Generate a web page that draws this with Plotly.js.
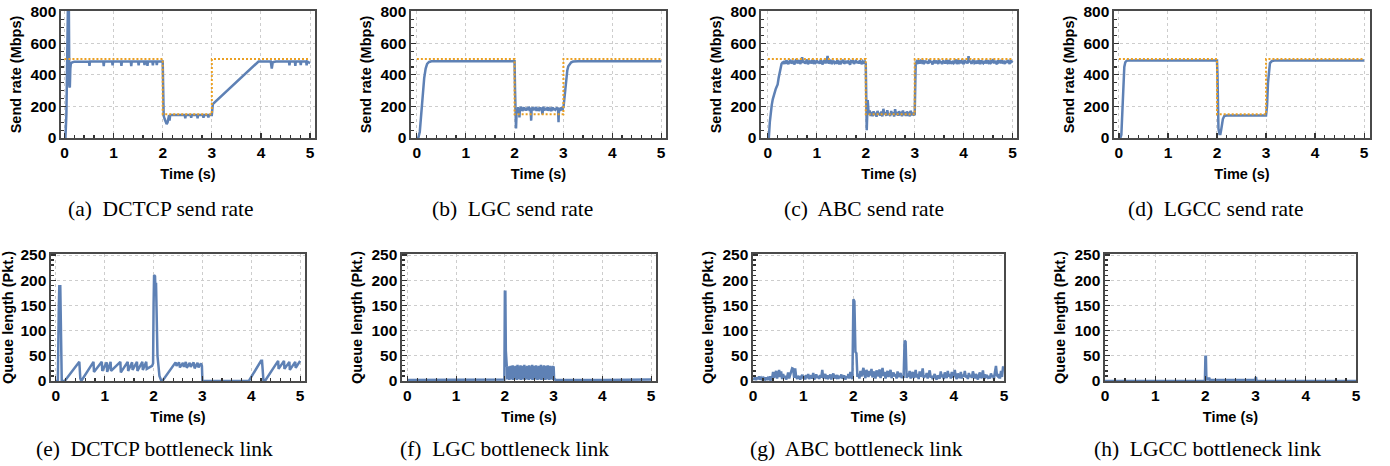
<!DOCTYPE html>
<html>
<head>
<meta charset="utf-8">
<script src="https://cdn.plot.ly/plotly-3.0.1.min.js"></script>
<style>html,body{margin:0;padding:0;background:#fff;}#chart{width:1390px;height:466px;}</style>
</head>
<body>
<div id="chart"></div>
<script>
// ---------- capacity reference (orange dotted) ----------
const capT = [0, 2, 2, 3, 3, 5];
const capV = [500, 500, 150, 150, 500, 500];

// ---------- (a) DCTCP send rate ----------
const aT = [0, 0.02, 0.04, 0.05, 0.06, 0.07, 0.08, 0.09, 0.10, 0.11,
  0.12, 0.13, 0.15, 0.2, 0.5, 0.51, 0.52, 0.79, 0.80, 0.81,
  0.97, 0.98, 0.99, 1.15, 1.16, 1.17, 1.35, 1.36, 1.37, 1.50,
  1.51, 1.52, 1.62, 1.63, 1.64, 1.68, 1.69, 1.70, 1.79, 1.80,
  1.81, 1.87, 1.88, 1.89, 2.0, 2.02, 2.04, 2.06, 2.08, 2.10,
  2.12, 2.13, 2.14, 2.15, 2.17, 2.45, 2.46, 2.47, 2.57, 2.58,
  2.59, 2.70, 2.71, 2.72, 2.82, 2.83, 2.84, 2.92, 2.93, 2.94,
  3.0, 3.02, 3.95, 4.20, 4.22, 4.24, 4.30, 4.57, 4.58, 4.59,
  4.69, 4.70, 4.71, 4.80, 4.81, 4.82, 4.92, 4.93, 4.94, 5.0];
const aV = [0, 0, 150, 450, 800, 820, 650, 820, 330, 320,
  440, 470, 478, 484, 485, 458, 485, 485, 455, 485,
  485, 460, 485, 485, 458, 485, 485, 455, 485, 485,
  460, 485, 485, 462, 485, 485, 458, 485, 485, 460,
  485, 485, 462, 485, 485, 140, 120, 95, 88, 100,
  130, 145, 110, 140, 145, 145, 125, 145, 145, 128,
  145, 145, 125, 145, 145, 128, 145, 145, 130, 145,
  145, 215, 485, 485, 440, 480, 485, 485, 460, 485,
  485, 458, 485, 485, 462, 485, 485, 460, 485, 475];

// ---------- (b) LGC send rate ----------
const bT1 = [0, 0.03, 0.06, 0.09, 0.12, 0.15, 0.18, 0.21, 0.25, 0.3, 0.4, 2.0, 2.01, 2.02, 2.03, 2.04];
const bV1 = [0, 0, 40, 150, 280, 380, 440, 470, 482, 486, 487, 487, 300, 80, 60, 150];
const bNoiseStart = 2.04, bNoiseStep = 0.01;
const bV2 = [150,185,172,195,178,190,130,188,176,198,
  181,193,170,189,184,196,175,191,180,187,
  173,194,182,190,177,199,185,171,192,183,
  110,186,179,196,174,190,181,188,176,197,
  183,172,191,185,178,194,170,189,182,195,
  176,187,180,150,184,198,173,190,179,186,
  192,175,188,181,196,172,185,190,177,193,
  183,170,189,186,195,178,182,191,174,188,
  181,185,179,194,181,187,100,192,184,171,
  189,180,195,186,175,190,190];
const bT3 = [3.0, 3.02, 3.04, 3.06, 3.08, 3.1, 3.13, 3.16, 3.2, 3.3, 5.0];
const bV3 = [190, 250, 330, 390, 430, 455, 470, 480, 485, 487, 487];

// ---------- (c) ABC send rate (sampled every 0.02 s from 0) ----------
const cStep = 0.02;
const cV = [0,0,100,175,210,245,270,295,310,325,340,380,420,450,470,478,
  475,488,470,492,480,468,485,495,472,483,
  490,466,479,500,474,486,493,470,482,512,
  476,489,471,484,497,468,481,490,473,486,
  479,494,469,483,491,475,487,470,498,480,
  466,485,492,474,488,520,472,483,495,469,
  481,490,477,486,470,493,482,467,489,476,
  484,496,471,480,488,473,491,478,465,487,
  483,494,470,481,489,475,486,472,492,480,
  468,485,478,484,
  470,50,240,
  150,175,140,165,138,170,145,160,135,172,
  148,158,142,168,137,185,150,163,140,176,
  146,155,139,171,152,160,136,182,147,165,
  141,170,153,158,138,174,145,162,140,168,
  150,156,137,173,144,160,148,
  150,
  470,485,478,492,472,487,480,495,469,483,
  490,475,486,471,498,479,488,466,484,493,
  474,489,481,470,496,477,485,468,491,482,
  473,487,479,494,470,486,480,471,489,476,
  483,497,469,485,478,492,474,488,481,467,
  494,477,486,472,518,480,489,470,484,495,
  476,482,471,490,479,486,468,493,481,475,
  488,472,496,480,485,469,491,477,484,500,
  473,489,478,467,492,481,486,474,495,479,
  483,470,488,476,494,481,469,490,485,478];

// ---------- (d) LGCC send rate ----------
const dT = [0, 0.03, 0.05, 0.07, 0.09, 0.11, 0.13, 0.16, 0.2, 2.0,
  2.01, 2.02, 2.03, 2.05, 2.07, 2.09, 2.12, 2.15, 2.2, 3.0,
  3.02, 3.04, 3.06, 3.08, 3.12, 3.2, 5.0];
const dV = [0, 0, 20, 150, 350, 450, 480, 490, 492, 492,
  400, 200, 60, 25, 25, 60, 120, 140, 142, 142,
  200, 350, 440, 475, 488, 492, 492];

// ---------- (e) DCTCP queue ----------
const eT = [0, 0.04, 0.06, 0.07, 0.09, 0.10, 0.11, 0.12, 0.18, 0.47,
  0.48, 0.50, 0.52, 0.77, 0.78, 0.94, 0.95, 1.04, 1.05, 1.12,
  1.13, 1.32, 1.33, 1.47, 1.48, 1.56, 1.57, 1.66, 1.67, 1.77,
  1.78, 1.85, 1.86, 1.97, 1.99, 2.00, 2.01, 2.03, 2.04, 2.05,
  2.06, 2.08, 2.09, 2.10, 2.12, 2.16, 2.18, 2.45, 2.47, 2.52,
  2.54, 2.60, 2.62, 2.66, 2.68, 2.74, 2.76, 2.82, 2.84, 2.90,
  2.92, 2.97, 2.99, 3.00, 3.95, 4.20, 4.22, 4.25, 4.28, 4.55,
  4.56, 4.67, 4.68, 4.78, 4.79, 4.90, 4.91, 5.00];
const eV = [0, 0, 150, 188, 188, 120, 20, 0, 0, 38,
  38, 5, 0, 38, 18, 38, 20, 37, 18, 38,
  20, 38, 17, 38, 20, 37, 22, 38, 20, 38,
  22, 38, 24, 30, 35, 150, 210, 208, 170, 195,
  120, 50, 40, 30, 10, 0, 0, 37, 30, 37,
  27, 36, 28, 38, 26, 36, 28, 37, 25, 36,
  27, 35, 30, 0, 0, 40, 40, 0, 0, 40,
  24, 40, 24, 38, 22, 38, 26, 40];

// ---------- (f) LGC queue ----------
const fT1 = [0, 0.3, 0.31, 1.0, 1.01, 1.98, 1.99, 2.0, 2.01, 2.02, 2.03, 2.04];
const fV1 = [2, 2, 3, 3, 2, 2, 3, 177, 177, 60, 28, 28];
const fBandStart = 2.04, fBandStep = 0.01;
const fV2 = [28,3,27,5,29,2,26,6,30,3,
  28,4,31,2,27,7,29,3,30,5,
  26,2,32,4,28,6,29,3,31,2,
  27,5,30,3,28,8,32,2,29,4,
  26,3,30,6,28,2,31,4,27,5,
  29,3,32,2,28,6,30,4,27,3,
  31,5,29,2,28,7,30,3,26,4,
  32,2,29,6,28,3,31,5,27,2,
  30,4,29,3,31,6,28,2,30,5,
  29,3,28,4,30,2,29,3,4];
const fT3 = [3.02, 3.04, 4.0, 5.0];
const fV3 = [4, 2, 2, 3];

// ---------- (g) ABC queue (sampled every 0.02 s from 0) ----------
const gStep = 0.02;
const gV = [6,3,8,2,7,4,9,3,6,2,8,5,3,7,2,6,4,9,3,5,
  18,6,17,20,5,15,22,8,19,4,14,6,10,3,8,17,5,12,20,25,24,6,25,8,4,10,7,3,9,12,
  5,10,3,12,6,14,4,9,11,5,16,3,8,13,6,10,4,12,7,22,5,9,14,4,11,6,8,13,3,10,
  15,5,9,7,12,4,10,6,13,5,8,11,3,9,6,14,5,18,10,4,
  162,158,58,55,8,
  14,5,20,9,18,26,12,6,22,15,8,20,11,24,7,19,13,5,21,16,
  9,23,6,14,26,10,18,5,12,20,8,15,22,6,11,17,9,14,5,19,8,12,16,6,10,
  6,80,78,6,
  15,8,20,5,12,18,6,10,22,7,
  14,4,19,9,12,25,6,11,8,16,
  5,13,21,7,10,4,9,14,6,3,
  11,7,5,19,8,13,4,17,10,6,
  20,9,14,5,18,7,12,22,8,4,
  15,10,6,18,5,13,9,20,7,11,
  4,16,8,12,6,19,10,5,14,8,
  3,12,17,6,9,21,5,13,8,10,
  7,10,5,15,8,12,4,18,30,11,
  9,14,5,20,8,27,28];

// ---------- (h) LGCC queue ----------
const hT = [0, 1.99, 2.0, 2.01, 2.02, 2.05, 2.06, 2.08, 2.09, 2.99, 3.0, 3.01, 3.02, 5.0];
const hV = [0, 0, 48, 48, 3, 3, 5, 5, 2, 2, 6, 6, 0, 0];

// ---------- text ----------
const sendTitle = 'Send rate (Mbps)';
const queueTitle = 'Queue length (Pkt.)';
const timeTitle = 'Time (s)';
const captions = ['(a)\u00A0 DCTCP send rate', '(b)\u00A0 LGC send rate', '(c)\u00A0 ABC send rate', '(d)\u00A0 LGCC send rate',
  '(e)\u00A0 DCTCP bottleneck link', '(f)\u00A0 LGC bottleneck link', '(g)\u00A0 ABC bottleneck link', '(h)\u00A0 LGCC bottleneck link'];

// ---------- layout geometry (pixels) ----------
const W = 1390, H = 466;
const geo = [
  {x:[61,315],  y:[11,138],  xr:[-0.07,5.1], yr:[0,805], cx:161, cy:209},
  {x:[411,666], y:[11,138],  xr:[-0.12,5.1], yr:[0,805], cx:512, cy:209},
  {x:[761,1017],y:[11,138],  xr:[-0.14,5.09],yr:[0,805], cx:864, cy:209},
  {x:[1114,1370],y:[11,138], xr:[-0.1,5.12], yr:[0,805], cx:1216, cy:209},
  {x:[51,305],  y:[254,381], xr:[-0.1,5.1],  yr:[0,252], cx:154, cy:449},
  {x:[402,656], y:[254,381], xr:[-0.11,5.1], yr:[0,252], cx:504, cy:449},
  {x:[753,1004],y:[254,381], xr:[0,5],       yr:[0,252], cx:856, cy:449},
  {x:[1105,1356],y:[254,381],xr:[0,5],       yr:[0,252], cx:1207, cy:449}
];

const blue = 'rgb(94,129,181)';
const orange = 'rgb(235,160,35)';
const BL = {color: blue, width: 2.5};
const OL = {color: orange, width: 2, dash: '2px,2px'};

function ax(n) { return n === 1 ? '' : String(n); }
const traces = [];
function add(n, tr) { tr.xaxis = 'x' + ax(n); tr.yaxis = 'y' + ax(n); tr.mode = 'lines'; tr.hoverinfo = 'skip'; traces.push(tr); }

add(1, {x: aT, y: aV, line: BL});
add(1, {x: capT, y: capV, line: OL});
add(2, {x: bT1, y: bV1, line: BL});
add(2, {y: bV2, x0: bNoiseStart, dx: bNoiseStep, line: BL});
add(2, {x: bT3, y: bV3, line: BL});
add(2, {x: capT, y: capV, line: OL});
add(3, {y: cV, x0: 0, dx: cStep, line: BL});
add(3, {x: capT, y: capV, line: OL});
add(4, {x: dT, y: dV, line: BL});
add(4, {x: capT, y: capV, line: OL});
add(5, {x: eT, y: eV, line: BL});
add(6, {x: fT1, y: fV1, line: BL});
add(6, {y: fV2, x0: fBandStart, dx: fBandStep, line: BL});
add(6, {x: fT3, y: fV3, line: BL});
add(7, {y: gV, x0: 0, dx: gStep, line: BL});
add(8, {x: hT, y: hV, line: BL});

const sans = 'Liberation Sans, Arial, sans-serif';
const tickFont = {family: sans, size: 15.5, weight: 'bold', color: '#000'};
const titleFont = {family: sans, size: 14.5, weight: 'bold', color: '#000'};
const common = {
  showline: true, mirror: true, linecolor: '#4a4a4a', linewidth: 1.6,
  ticks: 'inside', ticklen: 5, tickwidth: 1.2, tickcolor: '#333',
  showgrid: true, gridcolor: '#cdcdcd', griddash: 'dot', gridwidth: 1,
  zeroline: false, tickfont: tickFont, fixedrange: true
};

const layout = {
  width: W, height: H, margin: {l: 0, r: 0, t: 0, b: 0},
  paper_bgcolor: '#fff', plot_bgcolor: '#fff', showlegend: false,
  annotations: []
};
geo.forEach((g, i) => {
  const n = i + 1, top = i < 4;
  layout['xaxis' + ax(n)] = Object.assign({}, common, {
    domain: [g.x[0] / W, g.x[1] / W], range: g.xr, anchor: 'y' + ax(n),
    dtick: 1, tick0: 0,
    minor: {dtick: 0.2, ticks: 'inside', ticklen: 3, tickcolor: '#333', showgrid: false},
    title: {text: timeTitle, font: titleFont, standoff: 8}
  });
  layout['yaxis' + ax(n)] = Object.assign({}, common, {
    domain: [1 - g.y[1] / H, 1 - g.y[0] / H], range: g.yr, anchor: 'x' + ax(n),
    dtick: top ? 200 : 50, tick0: 0,
    minor: {dtick: top ? 50 : 10, ticks: 'inside', ticklen: 3, tickcolor: '#333', showgrid: false},
    title: {text: top ? sendTitle : queueTitle, font: titleFont, standoff: 5}
  });
  layout.annotations.push({
    text: captions[i], xref: 'paper', yref: 'paper', x: g.cx / W, y: 1 - g.cy / H,
    xanchor: 'center', yanchor: 'middle', showarrow: false,
    font: {family: '"Liberation Serif", "Times New Roman", serif', size: 21.5, color: '#000'}
  });
});

Plotly.newPlot('chart', traces, layout, {staticPlot: true, displayModeBar: false});
</script>
</body>
</html>
